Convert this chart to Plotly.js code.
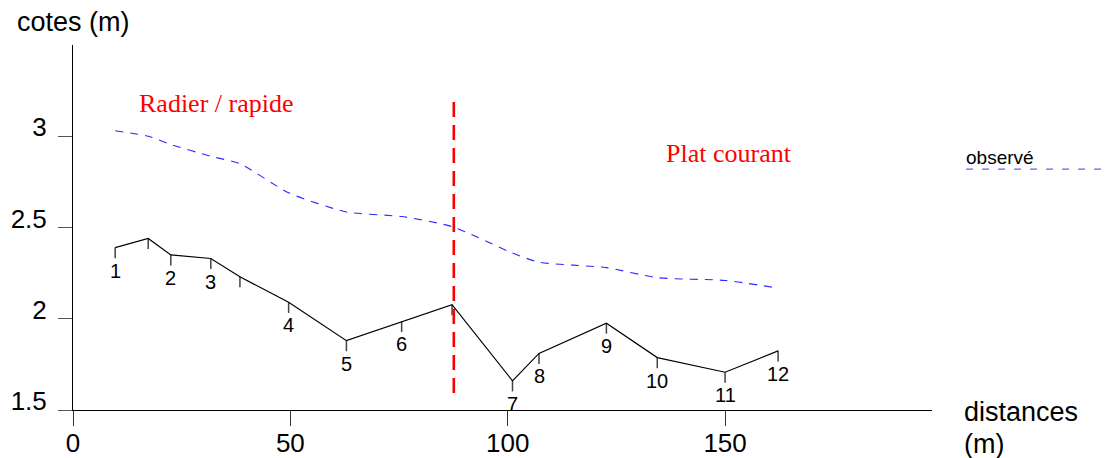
<!DOCTYPE html>
<html>
<head>
<meta charset="utf-8">
<script src="https://cdn.plot.ly/plotly-3.0.1.min.js"></script>
<style>html,body{margin:0;padding:0;background:#fff;}#chart{width:1109px;height:458px;}</style>
</head>
<body>
<div id="chart"></div>
<script>
// Profile stations (distance in m) and bed elevations (cotes, m)
const stationX = [9.7, 17.3, 22.5, 31.7, 38.4, 49.6, 62.9, 75.6, 87.2, 101.1, 107.2, 122.7, 134.4, 150.0, 162.2];
const bedY     = [2.39, 2.44, 2.35, 2.33, 2.23, 2.09, 1.88, 1.985, 2.077, 1.66, 1.81, 1.976, 1.787, 1.707, 1.824];
const stationLabels = ['1', '', '2', '3', '', '4', '5', '6', '', '7', '8', '9', '10', '11', '12'];
// Observed water surface ("observé")
const waterY   = [3.03, 3.00, 2.955, 2.89, 2.85, 2.69, 2.585, 2.56, 2.505, 2.36, 2.31, 2.28, 2.225, 2.21, 2.168];
// Boundary between reaches
const boundaryX = [87.6, 87.6];
const boundaryY = [1.593, 3.19];
// Axis ticks
const xTicks = [0, 50, 100, 150];
const yTicks = [1.5, 2, 2.5, 3];
const yTickText = ['1.5', '2', '2.5', '3'];
// Reach names
const reachNames = ['Radier / rapide', 'Plat courant'];
const reachX = [33.1, 150.8];
const reachY = [3.18, 2.905];

const tickDepth = stationX.map(() => 0.058);

const sans = 'Liberation Sans, Arial, Helvetica, sans-serif';
const serif = 'Liberation Serif, Times New Roman, serif';

const traces = [
  {
    x: stationX, y: waterY, mode: 'lines', type: 'scatter',
    line: {color: '#2b2bff', width: 1.1, dash: '8px,7px', shape: 'spline', smoothing: 0.6},
    hoverinfo: 'skip', showlegend: false
  },
  {
    x: stationX, y: bedY, mode: 'lines', type: 'scatter',
    line: {color: '#000', width: 1.2},
    error_y: {type: 'data', symmetric: false, array: stationX.map(() => 0), arrayminus: tickDepth,
              width: 0, thickness: 1.5, color: '#444'},
    hoverinfo: 'skip', showlegend: false
  },
  {
    x: boundaryX, y: boundaryY, mode: 'lines', type: 'scatter',
    line: {color: '#ff0000', width: 2.6, dash: '15px,8px'},
    hoverinfo: 'skip', showlegend: false
  }
];

const annotations = [];
stationX.forEach((xv, i) => {
  if (stationLabels[i]) {
    annotations.push({x: xv, y: bedY[i], xref: 'x', yref: 'y', text: stationLabels[i],
      showarrow: false, yanchor: 'top', xanchor: 'center', yshift: -10,
      font: {family: sans, size: 20, color: '#000'}});
  }
});
reachNames.forEach((t, i) => {
  annotations.push({x: reachX[i], y: reachY[i], xref: 'x', yref: 'y', text: t, showarrow: false,
    xanchor: 'center', yanchor: 'middle', font: {family: serif, size: 26, color: '#ff0000'}});
});
annotations.push({x: -0.068, y: 1.063, xref: 'paper', yref: 'paper', text: 'cotes (m)', showarrow: false,
  xanchor: 'left', yanchor: 'middle', font: {family: sans, size: 27, color: '#000'}});
annotations.push({x: 1.035, y: -0.005, xref: 'paper', yref: 'paper', text: 'distances', showarrow: false,
  xanchor: 'left', yanchor: 'middle', font: {family: sans, size: 27, color: '#000'}});
annotations.push({x: 1.035, y: -0.093, xref: 'paper', yref: 'paper', text: '(m)', showarrow: false,
  xanchor: 'left', yanchor: 'middle', font: {family: sans, size: 27, color: '#000'}});
annotations.push({x: 1.037, y: 0.693, xref: 'paper', yref: 'paper', text: 'observé', showarrow: false,
  xanchor: 'left', yanchor: 'middle', font: {family: sans, size: 19, color: '#000'}});

const layout = {
  width: 1109, height: 458,
  margin: {l: 73, r: 177, t: 45, b: 48, pad: 0},
  paper_bgcolor: '#fff', plot_bgcolor: '#fff',
  showlegend: false,
  xaxis: {
    range: [0, 197.6], showgrid: false, zeroline: false,
    showline: true, linecolor: '#000', linewidth: 1,
    tickmode: 'array', tickvals: xTicks, ticktext: xTicks.map(String),
    ticks: 'outside', ticklen: 15, tickcolor: '#333', tickwidth: 1,
    ticklabelstandoff: -5,
    tickfont: {family: sans, size: 26, color: '#000'}
  },
  yaxis: {
    range: [1.5, 3.5], showgrid: false, zeroline: false,
    showline: true, linecolor: '#000', linewidth: 1,
    tickmode: 'array', tickvals: yTicks, ticktext: yTickText,
    ticks: 'outside', ticklen: 14, tickcolor: '#555', tickwidth: 1,
    ticklabelstandoff: 6, ticklabelshift: -9,
    tickfont: {family: sans, size: 26, color: '#000'}
  },
  annotations: annotations,
  shapes: [{type: 'line', xref: 'paper', yref: 'paper', x0: 1.0396, x1: 1.21, y0: 0.66, y1: 0.66,
    line: {color: '#3b3bff', width: 1, dash: '7px,9px'}}]
};

Plotly.newPlot('chart', traces, layout, {displayModeBar: false, staticPlot: true});
</script>
</body>
</html>
